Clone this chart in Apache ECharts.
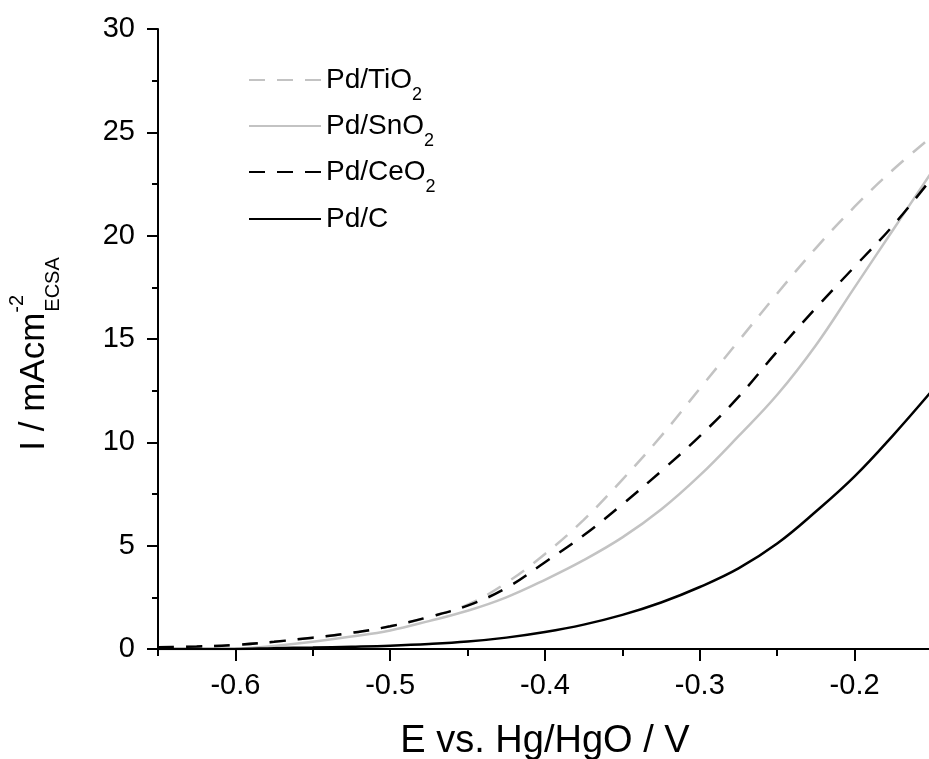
<!DOCTYPE html>
<html>
<head>
<meta charset="utf-8">
<script src="https://cdn.jsdelivr.net/npm/echarts@6/dist/echarts.min.js"></script>
<style>
html,body{margin:0;padding:0;background:#ffffff;}
#chart{width:929px;height:759px;}
</style>
</head>
<body>
<div id="chart"></div>
<script>
// ---- data ----
const potential = [-0.65,-0.625,-0.6,-0.575,-0.55,-0.525,-0.5,-0.475,-0.45,-0.425,-0.4,-0.375,-0.35,-0.325,-0.3,-0.275,-0.25,-0.225,-0.2,-0.175,-0.15];
const pdTiO2  = [0.08,0.12,0.2,0.35,0.55,0.78,1.1,1.55,2.15,3.2,4.6,6.25,8.2,10.3,12.6,14.9,17.2,19.4,21.4,23.2,24.8];
const pdSnO2  = [null,null,0.0,0.15,0.35,0.6,0.9,1.35,1.85,2.5,3.35,4.3,5.4,6.75,8.4,10.3,12.3,14.7,17.5,20.3,23.1];
const pdCeO2  = [0.08,0.12,0.2,0.35,0.55,0.78,1.1,1.55,2.1,2.95,4.2,5.5,7.0,8.6,10.3,12.2,14.4,16.5,18.5,20.5,22.8];
const pdC     = [0.0,0.0,0.0,0.04,0.07,0.11,0.16,0.24,0.36,0.55,0.82,1.18,1.65,2.25,3.0,3.9,5.1,6.65,8.35,10.35,12.5];

const seriesNames = ['Pd/TiO2','Pd/SnO2','Pd/CeO2','Pd/C'];
const legendLabels = [['Pd/TiO','2'],['Pd/SnO','2'],['Pd/CeO','2'],['Pd/C','']];
const xMajorTicks = [-0.6,-0.5,-0.4,-0.3,-0.2];
const xMinorTicks = [-0.65,-0.55,-0.45,-0.35,-0.25,-0.15];
const yTickInterval = 5;
const xAxisTitle = 'E vs. Hg/HgO / V';
const yAxisTitle = ['I / mAcm','-2','ECSA'];

// ---- build ----
function pairs(values){
  const out = [];
  values.forEach((v,i)=>{ if(v!==null) out.push([potential[i], v]); });
  return out;
}
const dataSets = [pdTiO2, pdSnO2, pdCeO2, pdC];
const styles = [
  {color:'#c3c3c3', type:[16,12]},
  {color:'#c3c3c3', type:'solid'},
  {color:'#000000', type:[16,12]},
  {color:'#000000', type:'solid'}
];
const FONT = '"Liberation Sans", Arial, Helvetica, sans-serif';

const chart = echarts.init(document.getElementById('chart'), null, {renderer:'canvas'});

const legendRowTop = [61,107,153,200];
const legends = seriesNames.map((n,i)=>({
  data:[n],
  orient:'vertical',
  left:243,
  top:legendRowTop[i],
  itemWidth:72,
  itemHeight:14,
  itemGap:0,
  itemStyle:{opacity:0},
  formatter:function(name){
    const idx = seriesNames.indexOf(name);
    const lab = legendLabels[idx];
    return lab[1] ? '{m|'+lab[0]+'}{s|'+lab[1]+'}' : '{m|'+lab[0]+'}';
  },
  textStyle:{
    fontFamily:FONT,
    color:'#000',
    rich:{
      m:{fontSize:28, lineHeight:32, fontFamily:FONT, color:'#000'},
      s:{fontSize:18, height:2, verticalAlign:'bottom', fontFamily:FONT, color:'#000'}
    }
  }
}));

const option = {
  backgroundColor:'#ffffff',
  animation:false,
  legend:legends,
  grid:{left:158, right:-3, top:29, bottom:110, containLabel:false, outerBoundsMode:'none'},
  xAxis:[{
    type:'value',
    min:-0.65, max:-0.15,
    position:'bottom',
    axisLine:{show:true, onZero:false, lineStyle:{color:'#000', width:2}},
    axisTick:{show:true, inside:false, length:12, lineStyle:{color:'#000', width:2}, customValues:xMajorTicks},
    axisLabel:{show:true, margin:22, fontSize:29, fontFamily:FONT, color:'#000', customValues:xMajorTicks,
      formatter:function(v){ return String(Math.round(v*10)/10); }},
    splitLine:{show:false},
    name:'{m|'+xAxisTitle+'}',
    nameLocation:'middle',
    nameGap:75,
    nameTextStyle:{rich:{m:{fontSize:38, lineHeight:36, fontFamily:FONT, color:'#000'}}}
  },{
    type:'value',
    min:-0.65, max:-0.15,
    position:'bottom',
    axisLine:{show:false, onZero:false},
    axisTick:{show:true, inside:false, length:7, lineStyle:{color:'#000', width:2}, customValues:xMinorTicks},
    axisLabel:{show:false},
    splitLine:{show:false}
  }],
  yAxis:{
    type:'value',
    min:0, max:30, interval:yTickInterval,
    axisLine:{show:true, onZero:false, lineStyle:{color:'#000', width:2}},
    axisTick:{show:true, inside:false, length:11, lineStyle:{color:'#000', width:2}},
    minorTick:{show:true, splitNumber:2, length:6, lineStyle:{color:'#000', width:2}},
    axisLabel:{margin:23, fontSize:29, fontFamily:FONT, color:'#000'},
    splitLine:{show:false},
    name:'{m|'+yAxisTitle[0]+'}{sup|'+yAxisTitle[1]+'}{sub|'+yAxisTitle[2]+'}',
    nameLocation:'middle',
    nameRotate:90,
    nameGap:104,
    nameTextStyle:{
      padding:[0,30,0,0],
      rich:{
        m:{fontSize:35, lineHeight:40, align:'left', fontFamily:FONT, color:'#000'},
        sup:{fontSize:20, height:6, width:1, align:'left', verticalAlign:'top', fontFamily:FONT, color:'#000'},
        sub:{fontSize:20, height:2, align:'left', verticalAlign:'bottom', fontFamily:FONT, color:'#000'}
      }
    }
  },
  series:seriesNames.map((n,i)=>({
    name:n,
    type:'line',
    xAxisIndex:0,
    data:pairs(dataSets[i]),
    smooth:0.4,
    showSymbol:false,
    symbol:'none',
    clip:true,
    lineStyle:{color:styles[i].color, type:styles[i].type, width:2.5},
    itemStyle:{color:styles[i].color},
    z:2+i
  }))
};
chart.setOption(option);
</script>
</body>
</html>
